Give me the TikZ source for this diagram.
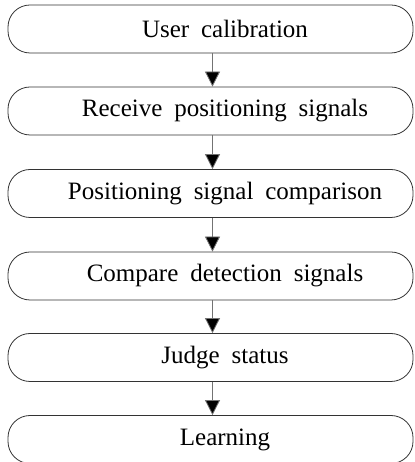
\documentclass[tikz,border=0pt]{standalone}
\usepackage{fontspec}
\setmainfont{Liberation Serif}[WordSpace={1.9,0,0}]
\usetikzlibrary{arrows.meta}
\begin{document}
\begin{tikzpicture}[x=1pt,y=1pt,
  stepbox/.style={draw=black!80, line width=0.8pt, rounded corners=22pt,
    minimum width=405pt, minimum height=48pt, inner sep=0pt,
    font=\fontsize{25}{30}\selectfont, text=black},
  flow/.style={draw=black!55, line width=0.8pt,
    -{Triangle[width=15pt,length=15pt,fill=black]}}]
\useasboundingbox (0,0) rectangle (414,462);
\node[stepbox] (b1) at (210.5,433)   {\hspace*{29pt}User calibration};
\node[stepbox] (b2) at (210.5,351)   {\hspace*{29pt}Receive positioning signals};
\node[stepbox] (b3) at (210.5,268.5) {\hspace*{29pt}Positioning signal comparison};
\node[stepbox] (b4) at (210.5,186)   {\hspace*{29pt}Compare detection signals};
\node[stepbox] (b5) at (210.5,104.5) {\hspace*{29pt}Judge status};
\node[stepbox] (b6) at (210.5,22.5)  {\hspace*{29pt}Learning};
\foreach \a/\b in {b1/b2,b2/b3,b3/b4,b4/b5,b5/b6}
  \draw[flow] ([xshift=2pt]\a.south) -- ([xshift=2pt]\b.north);
\end{tikzpicture}
\end{document}
